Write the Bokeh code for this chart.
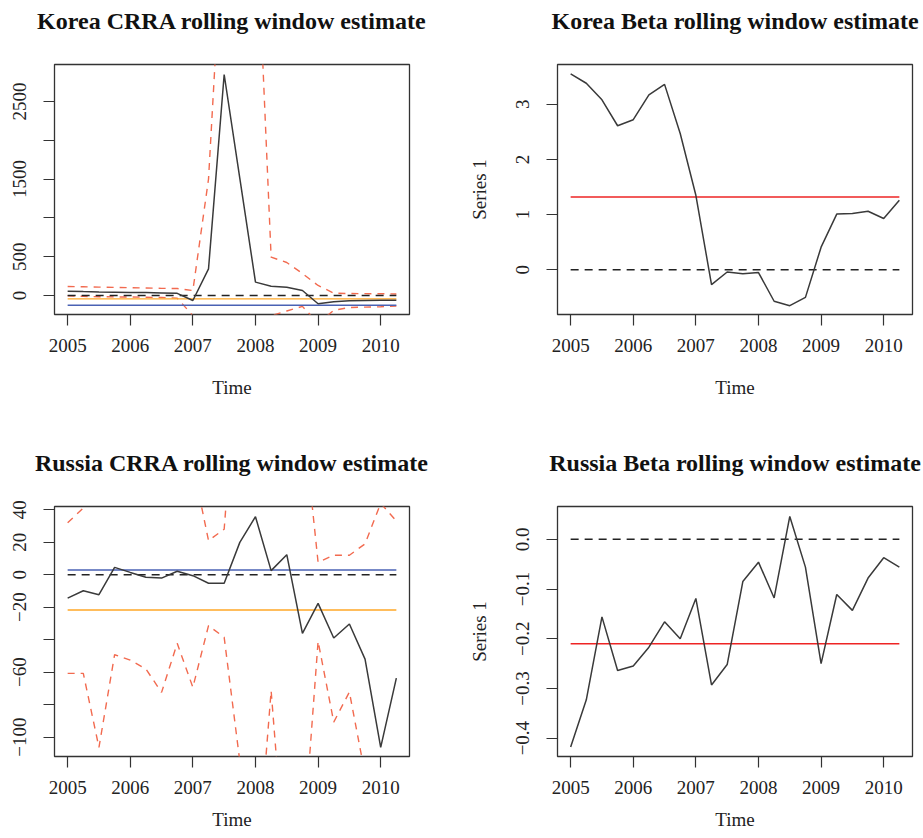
from bokeh.plotting import figure
from bokeh.layouts import column, row
from bokeh.models import Range1d, FixedTicker, Title
from bokeh.embed import file_html
from bokeh.resources import INLINE

# Quarterly observation dates of the rolling windows
quarters = [2005.0, 2005.25, 2005.5, 2005.75, 2006.0, 2006.25, 2006.5, 2006.75,
            2007.0, 2007.25, 2007.5, 2007.75, 2008.0, 2008.25, 2008.5, 2008.75,
            2009.0, 2009.25, 2009.5, 2009.75, 2010.0, 2010.25]
year_ticks = [2005, 2006, 2007, 2008, 2009, 2010]

# Korea CRRA estimate with confidence band
korea_crra = [56, 50, 46, 43, 40, 37, 33, 28, -65, 344, 2848, 1510,
              172, 120, 107, 64, -107, -80, -68, -64, -62, -60]
korea_crra_upper = [116, 112, 108, 104, 100, 96, 92, 90, 64, 1500, 5100, 8000,
                    5200, 494, 425, 283, 129, 30, 25, 24, 22, 20]
korea_crra_lower = [-4, -12, -16, -18, -20, -22, -26, -34, -260, -1500, -2500, -1200,
                    -800, -262, -200, -140, -360, -190, -155, -150, -145, -135]
korea_crra_orange = -43
korea_crra_blue = -125

# Korea beta estimate
korea_beta = [3.55, 3.38, 3.08, 2.61, 2.72, 3.17, 3.36, 2.47, 1.35, -0.27, -0.04,
              -0.07, -0.05, -0.57, -0.65, -0.50, 0.41, 1.01, 1.02, 1.06, 0.93, 1.26]
korea_beta_red = 1.32

# Russia CRRA estimate with confidence band
russia_crra = [-14.4, -9.9, -12.3, 4.5, 1.4, -1.6, -2.1, 2.1, -0.6, -5.3, -5.3,
               19.9, 35.7, 2.5, 12.3, -36.1, -17.7, -39.0, -30.4, -52.0, -106.4, -63.7]
russia_crra_upper = [32, 41, 82, 58, 55, 55, 68, 46, 68, 21, 28,
                     155, 265, 77, 219, 100, 7.6, 12, 12, 19, 44, 33]
russia_crra_lower = [-60.8, -60.8, -106.4, -49.3, -52.6, -58.1, -72.5, -42.3, -69.4, -31.4, -38.6,
                     -115, -194, -71.5, -194, -172, -41, -90.8, -72.3, -123, -257, -160]
russia_crra_orange = -21.8
russia_crra_blue = 2.9

# Russia beta estimate
russia_beta = [-0.418, -0.323, -0.156, -0.264, -0.255, -0.217, -0.166, -0.200, -0.119,
               -0.293, -0.252, -0.085, -0.046, -0.118, 0.046, -0.056, -0.250, -0.111,
               -0.143, -0.078, -0.037, -0.056]
russia_beta_red = -0.210

SERIF = "Liberation Serif"
INK = "#222222"
LINE = "#3a3a3a"
BAND = "#f26a4f"
RED = "#ee2424"
ORANGE = "#ffa726"
BLUE = "#4a62b4"


def make_panel(title, y_lo, y_hi, yticks, ylabels, ylabel, width, height, borders,
               time_standoff):
    left, right, top, bottom = borders
    p = figure(width=width, height=height, output_backend="svg", toolbar_location=None,
               x_range=Range1d(2004.79, 2010.46), y_range=Range1d(y_lo, y_hi),
               min_border_left=left, min_border_right=right,
               min_border_top=top, min_border_bottom=bottom)
    p.title = Title(text=title, align="center", text_font=SERIF, text_font_size="24px",
                    text_font_style="bold", text_color="#111111", standoff=0)
    # blank spacer next to the frame lifts the heading away from the box
    p.add_layout(Title(text=" ", text_font=SERIF, text_font_size="24px", standoff=3), "above")
    p.grid.visible = False
    p.background_fill_color = "white"
    p.border_fill_color = "white"
    p.outline_line_color = "#333333"
    p.outline_line_width = 1.3

    p.xaxis.ticker = FixedTicker(ticks=year_ticks)
    p.xaxis.axis_label = "Time"
    p.yaxis.ticker = FixedTicker(ticks=yticks)
    p.yaxis.major_label_overrides = {t: s for t, s in zip(yticks, ylabels)}
    p.yaxis.major_label_orientation = "vertical"
    if ylabel:
        p.yaxis.axis_label = ylabel
    for ax in (p.xaxis[0], p.yaxis[0]):
        ax.axis_line_color = None
        ax.major_tick_line_color = "#333333"
        ax.major_tick_line_width = 1.2
        ax.major_tick_out = 11
        ax.major_tick_in = 0
        ax.minor_tick_line_color = None
        ax.major_label_text_font = SERIF
        ax.major_label_text_font_size = "19px"
        ax.major_label_text_color = INK
        ax.axis_label_text_font = SERIF
        ax.axis_label_text_font_size = "19px"
        ax.axis_label_text_font_style = "normal"
        ax.axis_label_text_color = INK
    p.xaxis.major_label_standoff = 13
    p.xaxis.axis_label_standoff = time_standoff
    p.yaxis.major_label_standoff = 17
    p.yaxis.axis_label_standoff = 24
    return p


def hline(p, level, color, dash="solid", width=1.4):
    p.line([quarters[0], quarters[-1]], [level, level], line_color=color,
           line_width=width, line_dash=dash)


W1, W2 = 460, 463
H1, H2 = 440, 398

# Korea CRRA
p1 = make_panel("Korea CRRA rolling window estimate", -245, 2977,
                [0, 500, 1000, 1500, 2000, 2500], ["0", "500", "", "1500", "", "2500"],
                None, W1, H1, (54, 51, 64, H1 - 64 - 250), 22)
p1.line(quarters, korea_crra_upper, line_color=BAND, line_width=1.4, line_dash="7 6")
p1.line(quarters, korea_crra_lower, line_color=BAND, line_width=1.4, line_dash="7 6")
hline(p1, 0, "#222222", "8 6")
hline(p1, korea_crra_orange, ORANGE)
hline(p1, korea_crra_blue, BLUE)
p1.line(quarters, korea_crra, line_color=LINE, line_width=1.5)

# Korea beta
p2 = make_panel("Korea Beta rolling window estimate", -0.81, 3.72,
                [0, 1, 2, 3], ["0", "1", "2", "3"],
                "Series 1", W2, H1, (97, W2 - 97 - 355, 64, H1 - 64 - 250), 22)
hline(p2, 0, "#222222", "8 6")
hline(p2, korea_beta_red, RED)
p2.line(quarters, korea_beta, line_color=LINE, line_width=1.5)

# Russia CRRA
p3 = make_panel("Russia CRRA rolling window estimate", -112, 42,
                [-100, -80, -60, -40, -20, 0, 20, 40],
                ["\u2212100", "", "\u221260", "", "\u221220", "0", "20", "40"],
                None, W1, H2, (54, 51, 66, H2 - 66 - 250), 12)
p3.line(quarters, russia_crra_upper, line_color=BAND, line_width=1.4, line_dash="7 6")
p3.line(quarters, russia_crra_lower, line_color=BAND, line_width=1.4, line_dash="7 6")
hline(p3, 0, "#222222", "8 6")
hline(p3, russia_crra_orange, ORANGE)
hline(p3, russia_crra_blue, BLUE)
p3.line(quarters, russia_crra, line_color=LINE, line_width=1.5)

# Russia beta
p4 = make_panel("Russia Beta rolling window estimate", -0.437, 0.066,
                [-0.4, -0.3, -0.2, -0.1, 0.0],
                ["\u22120.4", "\u22120.3", "\u22120.2", "\u22120.1", "0.0"],
                "Series 1", W2, H2, (97, W2 - 97 - 355, 66, H2 - 66 - 250), 12)
hline(p4, 0, "#222222", "8 6")
hline(p4, russia_beta_red, RED)
p4.line(quarters, russia_beta, line_color=LINE, line_width=1.5)

layout = column(row(p1, p2), row(p3, p4))

with open("out.html", "w") as f:
    f.write(file_html(layout, INLINE))
